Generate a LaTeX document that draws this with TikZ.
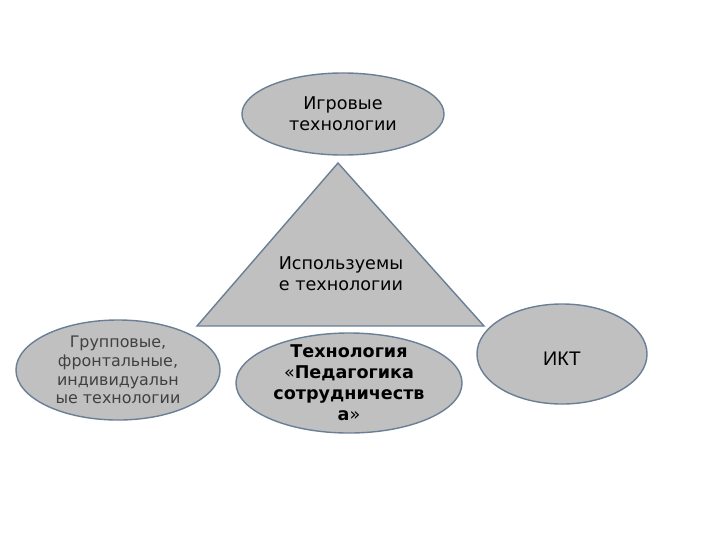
\documentclass[tikz,border=0pt]{standalone}
\usepackage{fontspec}
\setmainfont{DejaVu Sans}
\newfontfamily\arialfont{Liberation Sans}
\usetikzlibrary{shapes.geometric}
\definecolor{shapefill}{HTML}{C0C0C0}
\definecolor{shapeline}{HTML}{6A7F96}
\definecolor{softtext}{HTML}{404040}
\tikzset{oval/.style = {ellipse,
                        draw=shapeline,
                        fill=shapefill,
                        line width=1pt,
                        inner sep=0pt,
                        align=center},
         label/.style = {align=center,
                         font=\fontsize{12.5}{15}\selectfont}}

\begin{document}
\begin{tikzpicture}[x=0.025cm, y=-0.025cm]

    \useasboundingbox (0,0) rectangle (720,540);

    \node (game)  [oval, minimum width=5.05cm, minimum height=2.05cm] at (343,114) {};
    \node (group) [oval, minimum width=5.1cm,  minimum height=2.5cm]  at (118,370) {};
    \node (coop)  [oval, minimum width=5.65cm, minimum height=2.5cm]  at (349,383) {};
    \node (ikt)   [oval, minimum width=4.25cm, minimum height=2.5cm]  at (562,354) {};

    \coordinate (apex)  at (338,163);
    \coordinate (left)  at (197,326);
    \coordinate (right) at (484,326);
    \draw [draw=shapeline, fill=shapefill, line width=1pt] (apex) -- (left) -- (right) -- cycle;

    \node (used) [label] at (341,274) {Используемы\\е технологии};
    \node [label] at (game) {Игровые\\технологии};
    \node [label, text=softtext, font=\fontsize{11.3}{13.3}\selectfont] at (group)
          {Групповые,\\фронтальные,\\индивидуальн\\ые технологии};
    \node [label, font=\bfseries\fontsize{12.5}{15}\selectfont] at (coop)
          {Технология\\\mdseries«\bfseries Педагогика\\сотрудничеств\\а\mdseries»};
    \node [label, font=\arialfont\fontsize{14}{15}\selectfont] at ([yshift=-3pt]ikt) {ИКТ};

\end{tikzpicture}
\end{document}
